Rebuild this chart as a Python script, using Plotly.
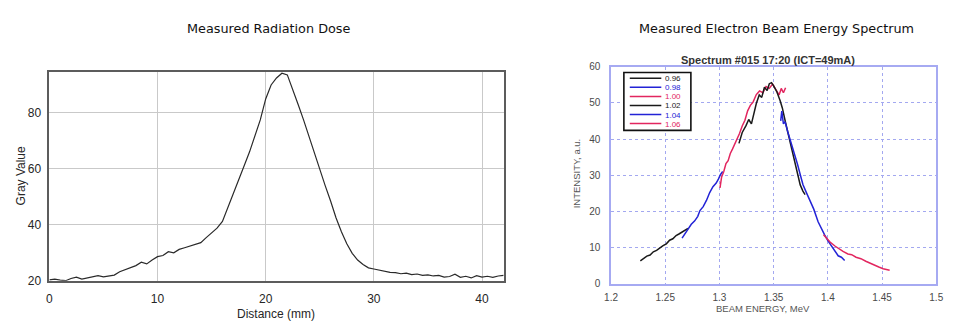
import plotly.graph_objects as go

W, H = 960, 334

# ---- Measured radiation dose profile (gray value along distance) ----
dose_distance_mm = [i * 0.5 for i in range(85)]
dose_gray_value = [
    20.3, 20.6, 20.2, 20.0, 20.8, 21.3, 20.6, 21.0, 21.2, 21.8,
    21.4, 21.6, 22.0, 23.2, 24.0, 24.6, 25.4, 26.6, 26.0, 27.4,
    28.6, 29.0, 30.4, 30.0, 31.2, 31.8, 32.4, 33.0, 33.6, 35.4,
    37.2, 38.8, 41.2, 46.0, 51.0, 56.0, 61.0, 66.0, 72.0, 77.5,
    85.0, 90.0, 92.5, 94.2, 93.6, 88.5, 83.0, 77.5, 71.5, 65.5,
    60.0, 54.0, 48.5, 42.5, 37.5, 33.2, 29.8, 27.4, 25.8, 24.6,
    24.2, 23.8, 23.6, 23.0, 22.9, 22.5, 22.7, 22.2, 22.4, 21.9,
    22.1, 21.7, 21.9, 21.3, 21.5, 22.3, 21.2, 21.6, 21.0, 21.8,
    21.3, 21.6, 21.2, 21.7, 21.9,
]
dose_x_ticks = [0, 10, 20, 30, 40]
dose_y_ticks = [20, 40, 60, 80]

# ---- Electron beam energy spectrum, one segment per magnet setting ----
spec_names = ["0.96", "0.98", "1.00", "1.02", "1.04", "1.06"]
spec_colors = ["#1a1a1a", "#2323d6", "#e2265f", "#1a1a1a", "#2323d6", "#e2265f"]

energy_096 = [1.227, 1.230, 1.233, 1.236, 1.239, 1.242, 1.245, 1.248, 1.251,
              1.254, 1.257, 1.260, 1.263, 1.266, 1.269, 1.271]
intensity_096 = [6.3, 7.0, 7.6, 7.9, 8.8, 9.2, 9.9, 10.5, 11.0,
                 12.0, 12.4, 13.3, 13.8, 14.4, 14.9, 15.3]

energy_098 = [1.2655, 1.268, 1.271, 1.274, 1.277, 1.280, 1.282, 1.285, 1.288,
              1.291, 1.294, 1.297, 1.299, 1.301, 1.303]
intensity_098 = [12.6, 13.8, 15.2, 16.4, 17.3, 18.6, 20.2, 21.3, 23.0,
                 25.2, 26.8, 27.8, 28.9, 30.2, 31.0]

energy_100 = [1.3005, 1.302, 1.304, 1.306, 1.308, 1.310, 1.312, 1.314, 1.316,
              1.3185, 1.321, 1.3235, 1.326, 1.3285, 1.331, 1.334, 1.337, 1.340,
              1.343, 1.346, 1.349, 1.352, 1.355, 1.357, 1.359, 1.361]
intensity_100 = [26.5, 29.5, 31.0, 33.2, 34.0, 36.0, 37.2, 38.5, 39.4,
                 41.5, 43.6, 45.2, 47.8, 49.3, 50.2, 52.3, 53.3, 52.8,
                 54.5, 54.0, 55.2, 53.8, 52.2, 54.0, 52.8, 54.2]

energy_102 = [1.318, 1.321, 1.3245, 1.327, 1.3295, 1.332, 1.334, 1.3367, 1.339,
              1.3415, 1.344, 1.346, 1.348, 1.350, 1.353, 1.356, 1.358, 1.361,
              1.364, 1.367, 1.370, 1.3725, 1.3745, 1.377, 1.379]
intensity_102 = [38.8, 41.8, 43.7, 45.4, 44.2, 47.7, 49.8, 52.2, 51.5,
                 54.3, 53.4, 55.3, 55.6, 54.7, 53.0, 50.6, 48.6, 44.5,
                 40.6, 37.0, 32.5, 29.4, 27.3, 25.6, 24.6]

energy_104 = [1.3565, 1.3575, 1.359, 1.3605, 1.363, 1.366, 1.369, 1.372, 1.3745,
              1.377, 1.380, 1.3835, 1.387, 1.391, 1.394, 1.397, 1.400, 1.4035,
              1.4065, 1.4095, 1.4125, 1.4155]
intensity_104 = [45.0, 47.7, 44.2, 44.8, 42.0, 39.2, 35.8, 33.0, 30.2,
                 27.4, 25.3, 22.8, 20.6, 17.1, 15.2, 13.5, 11.9, 10.4,
                 9.1, 7.7, 7.3, 6.4]

energy_106 = [1.396, 1.399, 1.402, 1.4065, 1.410, 1.414, 1.4185, 1.422, 1.426,
              1.4305, 1.435, 1.439, 1.4425, 1.447, 1.451, 1.4545, 1.457]
intensity_106 = [13.5, 12.4, 11.5, 10.4, 9.6, 8.9, 8.2, 8.0, 7.3,
                 6.9, 6.2, 5.6, 5.1, 4.6, 4.1, 3.8, 3.7]

spec_energy = [energy_096, energy_098, energy_100, energy_102, energy_104, energy_106]
spec_intensity = [intensity_096, intensity_098, intensity_100,
                  intensity_102, intensity_104, intensity_106]
spec_x_ticks = [1.2, 1.25, 1.3, 1.35, 1.4, 1.45, 1.5]
spec_x_labels = ["1.2", "1.25", "1.3", "1.35", "1.4", "1.45", "1.5"]
spec_y_ticks = [0, 10, 20, 30, 40, 50, 60]


def px(x):
    return x / W


def py(y):
    return 1 - y / H


fig = go.Figure()

fig.add_trace(go.Scatter(
    x=dose_distance_mm, y=dose_gray_value, mode="lines",
    line=dict(color="#2a2a2a", width=1.2),
    xaxis="x", yaxis="y", showlegend=False, hoverinfo="skip",
))

for name, col, ex, iy in zip(spec_names, spec_colors, spec_energy, spec_intensity):
    fig.add_trace(go.Scatter(
        x=ex, y=iy, mode="lines", name=name,
        line=dict(color=col, width=1.5),
        xaxis="x2", yaxis="y2", showlegend=False,
    ))

sans = "Liberation Sans, Arial, sans-serif"
dose_font = dict(family=sans, size=12, color="#262626")
spec_font = dict(family=sans, size=10, color="#4a4a4a")

fig.update_layout(
    width=W, height=H,
    margin=dict(l=0, r=0, t=0, b=0),
    paper_bgcolor="white", plot_bgcolor="white",
    xaxis=dict(
        domain=[px(43), px(504)], range=[0, 42], anchor="y",
        tickvals=dose_x_ticks, ticks="", tickfont=dose_font,
        ticklabelstandoff=6,
        showgrid=True, gridcolor="#c9c9c9", gridwidth=1,
        showline=True, linecolor="#5c5c5c", linewidth=1.6, mirror=True,
        zeroline=False, fixedrange=True,
    ),
    yaxis=dict(
        domain=[py(286), py(69)], range=[20, 94.8], anchor="x",
        tickvals=dose_y_ticks, ticks="", tickfont=dose_font,
        showgrid=True, gridcolor="#c9c9c9", gridwidth=1,
        showline=True, linecolor="#5c5c5c", linewidth=1.6, mirror=True,
        zeroline=False, fixedrange=True, ticklabelstandoff=4,
    ),
    xaxis2=dict(
        domain=[px(613), px(943)], range=[1.2, 1.5], anchor="y2",
        tickvals=spec_x_ticks, ticktext=spec_x_labels, ticks="",
        tickfont=spec_font, ticklabelstandoff=4,
        showgrid=True, gridcolor="#a3a8f0", gridwidth=1, griddash="dot",
        showline=True, linecolor="#a6aaf2", linewidth=1.5, mirror=True,
        zeroline=False, fixedrange=True,
    ),
    yaxis2=dict(
        domain=[py(289), py(64)], range=[0, 60], anchor="x2",
        tickvals=spec_y_ticks, ticks="", tickfont=spec_font,
        showgrid=True, gridcolor="#a3a8f0", gridwidth=1, griddash="dot",
        showline=True, linecolor="#a6aaf2", linewidth=1.5, mirror=True,
        zeroline=False, fixedrange=True, ticklabelstandoff=7,
    ),
)

ann = []
title_font = dict(family="DejaVu Sans, sans-serif", size=12.8, color="#111111")
ann.append(dict(text="Measured Radiation Dose", x=px(265.5), y=py(24),
                font=title_font))
ann.append(dict(text="Measured Electron Beam Energy Spectrum", x=px(780.5), y=py(24),
                font=title_font))
ann.append(dict(text="Distance (mm)", x=px(273), y=py(321), font=dose_font))
ann.append(dict(text="Gray Value", x=px(14), y=py(177), textangle=-90, font=dose_font))
ann.append(dict(text="<b>Spectrum #015 17:20 (ICT=49mA)</b>", x=px(772), y=py(57),
                font=dict(family=sans, size=11, color="#333333")))
ann.append(dict(text="BEAM ENERGY, MeV", x=px(767), y=py(315), borderpad=0,
                font=dict(family=sans, size=9.5, color="#555555")))
ann.append(dict(text="INTENSITY, a.u.", x=px(578), y=py(175), textangle=-90,
                font=dict(family=sans, size=9.5, color="#555555")))

# Legend box for the spectrum segments
shapes = [dict(type="rect", xref="paper", yref="paper",
               x0=px(626), x1=px(694), y0=py(130), y1=py(70),
               line=dict(color="#111111", width=1.6), fillcolor="white", layer="above")]
row_y = [76.0, 85.4, 94.8, 104.2, 113.6, 123.0]
for name, col, yy in zip(spec_names, spec_colors, row_y):
    shapes.append(dict(type="line", xref="paper", yref="paper",
                       x0=px(632), x1=px(664), y0=py(yy), y1=py(yy),
                       line=dict(color=col, width=1.5), layer="above"))
    ann.append(dict(text=name, x=px(667), y=py(yy), xanchor="left",
                    height=8, borderpad=0, valign="middle",
                    font=dict(family=sans, size=8, color=col)))

for a in ann:
    a.setdefault("xref", "paper")
    a.setdefault("yref", "paper")
    a.setdefault("showarrow", False)
    a.setdefault("xanchor", "center")
    a.setdefault("yanchor", "middle")

fig.update_layout(annotations=ann, shapes=shapes)

fig.write_html("out.html", config=dict(displayModeBar=False))
